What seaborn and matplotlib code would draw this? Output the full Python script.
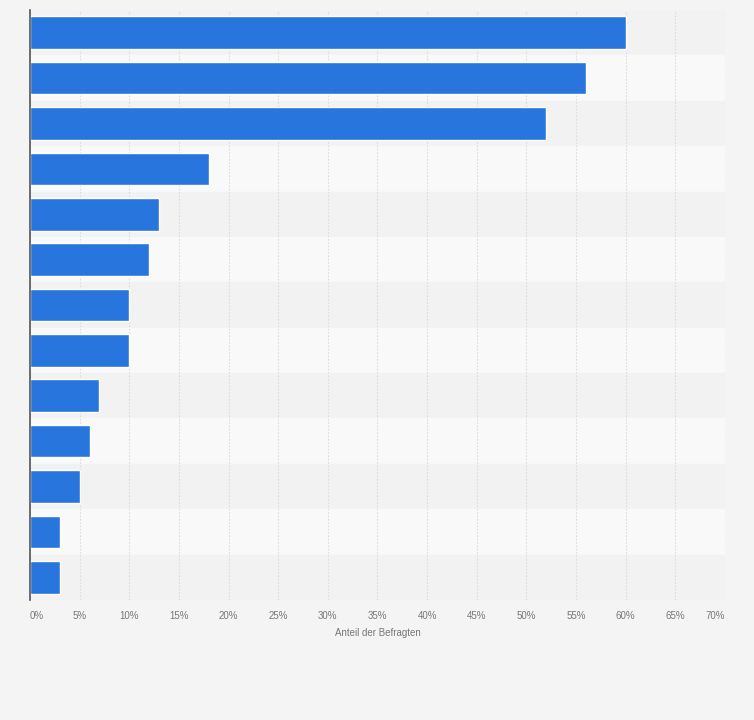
import matplotlib.pyplot as plt
import seaborn as sns
import pandas as pd

# Werte (Anteil der Befragten in %)
kategorien = [f"K{i}" for i in range(1, 14)]
werte = [60, 56, 52, 18, 13, 12, 10, 10, 7, 6, 5, 3, 3]
ticks = list(range(0, 75, 5))
tick_labels = [f"{t}%" for t in ticks]

df = pd.DataFrame({"kategorie": kategorien, "wert": werte})

sns.set_theme(style="white")
plt.rcParams['font.family'] = ['Liberation Sans', 'DejaVu Sans']

fig = plt.figure(figsize=(7.54, 7.20), dpi=100, facecolor="#f4f4f4")
ax = fig.add_axes([30 / 754, 1 - 600 / 720, 695 / 754, 590 / 720])
ax.set_facecolor("#f4f4f4")

# Abwechselnde Zeilenbänder
for i in range(len(kategorien)):
    ax.axhspan(i - 0.5, i + 0.5, color="#f2f2f2" if i % 2 == 0 else "#f9f9f9", zorder=0)

sns.barplot(data=df, x="wert", y="kategorie", orient="h", color="#2876dd",
            saturation=1, width=0.72, ax=ax, zorder=3)

ax.set_xlim(0, 70)
ax.set_ylim(len(kategorien) - 0.5, -0.5)
ax.set_xticks(ticks)
ax.set_xticklabels(tick_labels, fontsize=7, color="#777777")
ax.tick_params(axis="x", length=0, pad=8)
# erste und letzte Beschriftung nach innen gerückt wie im Original
xl = ax.get_xticklabels()
xl[0].set_horizontalalignment("left")
xl[-1].set_horizontalalignment("right")
ax.set_yticks([])
ax.set_ylabel("")
ax.set_xlabel("Anteil der Befragten", fontsize=7, color="#777777", labelpad=5)

ax.set_axisbelow(True)
ax.grid(axis="x", color="#dcdcdc", linestyle=(0, (1.5, 1.5)), linewidth=0.8)
for sp in ["top", "right", "bottom"]:
    ax.spines[sp].set_visible(False)
ax.spines["left"].set_color("#555555")
ax.spines["left"].set_linewidth(1.2)
ax.spines["left"].set_zorder(5)

fig.savefig("out.png", dpi=100, facecolor=fig.get_facecolor())
